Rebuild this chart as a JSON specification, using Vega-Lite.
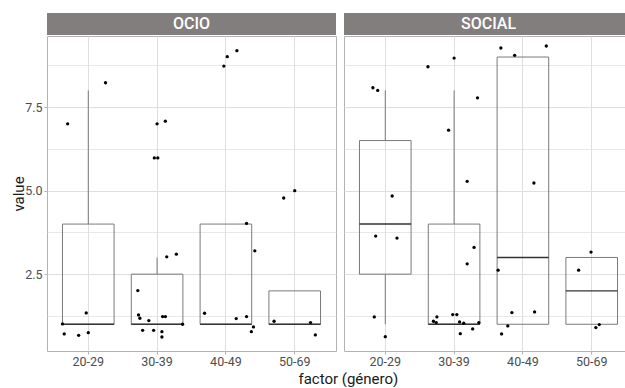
{
  "$schema": "https://vega.github.io/schema/vega-lite/v6.json",
  "background": "white",
  "padding": {"left": 11, "top": 13, "right": 0, "bottom": 0},
  "config": {
    "font": "Roboto",
    "view": {"stroke": "#b3b3b3", "strokeWidth": 1},
    "axis": {
      "labelFont": "Roboto", "labelFontSize": 12.5, "labelColor": "#4d4d4d",
      "titleFont": "Roboto", "titleFontSize": 15, "titleFontWeight": "normal", "titleColor": "#1a1a1a",
      "gridColor": "#dedede", "tickColor": "#b3b3b3", "domain": false
    }
  },
  "datasets": {
    "pts": [
      {"panel": "OCIO", "grupo": "20-29", "value": 7.0, "jitter": -0.30},
      {"panel": "OCIO", "grupo": "20-29", "value": 8.23, "jitter": 0.25},
      {"panel": "OCIO", "grupo": "20-29", "value": 1.34, "jitter": -0.03},
      {"panel": "OCIO", "grupo": "20-29", "value": 1.01, "jitter": -0.375},
      {"panel": "OCIO", "grupo": "20-29", "value": 0.71, "jitter": -0.35},
      {"panel": "OCIO", "grupo": "20-29", "value": 0.67, "jitter": -0.14},
      {"panel": "OCIO", "grupo": "20-29", "value": 0.75, "jitter": 0.0},
      {"panel": "OCIO", "grupo": "30-39", "value": 7.0, "jitter": 0.0},
      {"panel": "OCIO", "grupo": "30-39", "value": 7.08, "jitter": 0.12},
      {"panel": "OCIO", "grupo": "30-39", "value": 5.98, "jitter": -0.04},
      {"panel": "OCIO", "grupo": "30-39", "value": 5.98, "jitter": 0.01},
      {"panel": "OCIO", "grupo": "30-39", "value": 3.02, "jitter": 0.14},
      {"panel": "OCIO", "grupo": "30-39", "value": 3.10, "jitter": 0.28},
      {"panel": "OCIO", "grupo": "30-39", "value": 2.01, "jitter": -0.28},
      {"panel": "OCIO", "grupo": "30-39", "value": 1.28, "jitter": -0.27},
      {"panel": "OCIO", "grupo": "30-39", "value": 1.18, "jitter": -0.25},
      {"panel": "OCIO", "grupo": "30-39", "value": 1.11, "jitter": -0.12},
      {"panel": "OCIO", "grupo": "30-39", "value": 1.23, "jitter": 0.08},
      {"panel": "OCIO", "grupo": "30-39", "value": 1.23, "jitter": 0.12},
      {"panel": "OCIO", "grupo": "30-39", "value": 1.0, "jitter": 0.37},
      {"panel": "OCIO", "grupo": "30-39", "value": 0.82, "jitter": -0.21},
      {"panel": "OCIO", "grupo": "30-39", "value": 0.82, "jitter": -0.05},
      {"panel": "OCIO", "grupo": "30-39", "value": 0.78, "jitter": 0.07},
      {"panel": "OCIO", "grupo": "30-39", "value": 0.62, "jitter": 0.07},
      {"panel": "OCIO", "grupo": "40-49", "value": 9.01, "jitter": 0.02},
      {"panel": "OCIO", "grupo": "40-49", "value": 9.19, "jitter": 0.16},
      {"panel": "OCIO", "grupo": "40-49", "value": 8.73, "jitter": -0.03},
      {"panel": "OCIO", "grupo": "40-49", "value": 4.02, "jitter": 0.30},
      {"panel": "OCIO", "grupo": "40-49", "value": 3.20, "jitter": 0.42},
      {"panel": "OCIO", "grupo": "40-49", "value": 1.33, "jitter": -0.31},
      {"panel": "OCIO", "grupo": "40-49", "value": 1.17, "jitter": 0.15},
      {"panel": "OCIO", "grupo": "40-49", "value": 1.23, "jitter": 0.30},
      {"panel": "OCIO", "grupo": "40-49", "value": 0.92, "jitter": 0.40},
      {"panel": "OCIO", "grupo": "40-49", "value": 0.78, "jitter": 0.37},
      {"panel": "OCIO", "grupo": "50-69", "value": 5.0, "jitter": 0.0},
      {"panel": "OCIO", "grupo": "50-69", "value": 4.78, "jitter": -0.16},
      {"panel": "OCIO", "grupo": "50-69", "value": 1.09, "jitter": -0.30},
      {"panel": "OCIO", "grupo": "50-69", "value": 1.05, "jitter": 0.23},
      {"panel": "OCIO", "grupo": "50-69", "value": 0.68, "jitter": 0.30},
      {"panel": "SOCIAL", "grupo": "20-29", "value": 8.08, "jitter": -0.18},
      {"panel": "SOCIAL", "grupo": "20-29", "value": 8.0, "jitter": -0.11},
      {"panel": "SOCIAL", "grupo": "20-29", "value": 4.84, "jitter": 0.10},
      {"panel": "SOCIAL", "grupo": "20-29", "value": 3.64, "jitter": -0.14},
      {"panel": "SOCIAL", "grupo": "20-29", "value": 3.58, "jitter": 0.17},
      {"panel": "SOCIAL", "grupo": "20-29", "value": 1.22, "jitter": -0.16},
      {"panel": "SOCIAL", "grupo": "20-29", "value": 0.63, "jitter": 0.0},
      {"panel": "SOCIAL", "grupo": "30-39", "value": 8.71, "jitter": -0.38},
      {"panel": "SOCIAL", "grupo": "30-39", "value": 8.97, "jitter": 0.0},
      {"panel": "SOCIAL", "grupo": "30-39", "value": 7.78, "jitter": 0.34},
      {"panel": "SOCIAL", "grupo": "30-39", "value": 6.81, "jitter": -0.08},
      {"panel": "SOCIAL", "grupo": "30-39", "value": 5.28, "jitter": 0.19},
      {"panel": "SOCIAL", "grupo": "30-39", "value": 3.30, "jitter": 0.29},
      {"panel": "SOCIAL", "grupo": "30-39", "value": 2.81, "jitter": 0.19},
      {"panel": "SOCIAL", "grupo": "30-39", "value": 1.09, "jitter": -0.30},
      {"panel": "SOCIAL", "grupo": "30-39", "value": 1.05, "jitter": -0.26},
      {"panel": "SOCIAL", "grupo": "30-39", "value": 1.22, "jitter": -0.25},
      {"panel": "SOCIAL", "grupo": "30-39", "value": 1.29, "jitter": -0.02},
      {"panel": "SOCIAL", "grupo": "30-39", "value": 1.29, "jitter": 0.04},
      {"panel": "SOCIAL", "grupo": "30-39", "value": 1.07, "jitter": 0.08},
      {"panel": "SOCIAL", "grupo": "30-39", "value": 1.03, "jitter": 0.14},
      {"panel": "SOCIAL", "grupo": "30-39", "value": 1.05, "jitter": 0.36},
      {"panel": "SOCIAL", "grupo": "30-39", "value": 0.86, "jitter": 0.27},
      {"panel": "SOCIAL", "grupo": "30-39", "value": 0.72, "jitter": 0.09},
      {"panel": "SOCIAL", "grupo": "40-49", "value": 9.27, "jitter": -0.32},
      {"panel": "SOCIAL", "grupo": "40-49", "value": 9.33, "jitter": 0.34},
      {"panel": "SOCIAL", "grupo": "40-49", "value": 9.05, "jitter": -0.12},
      {"panel": "SOCIAL", "grupo": "40-49", "value": 5.23, "jitter": 0.16},
      {"panel": "SOCIAL", "grupo": "40-49", "value": 2.62, "jitter": -0.36},
      {"panel": "SOCIAL", "grupo": "40-49", "value": 1.35, "jitter": -0.16},
      {"panel": "SOCIAL", "grupo": "40-49", "value": 1.37, "jitter": 0.17},
      {"panel": "SOCIAL", "grupo": "40-49", "value": 0.95, "jitter": -0.22},
      {"panel": "SOCIAL", "grupo": "40-49", "value": 0.71, "jitter": -0.31},
      {"panel": "SOCIAL", "grupo": "50-69", "value": 3.16, "jitter": -0.01},
      {"panel": "SOCIAL", "grupo": "50-69", "value": 2.62, "jitter": -0.19},
      {"panel": "SOCIAL", "grupo": "50-69", "value": 0.99, "jitter": 0.11},
      {"panel": "SOCIAL", "grupo": "50-69", "value": 0.90, "jitter": 0.06}
    ],
    "box": [
      {"panel": "OCIO", "grupo": "20-29", "lower": 1, "q1": 1, "median": 1, "q3": 4, "upper": 8},
      {"panel": "OCIO", "grupo": "30-39", "lower": 1, "q1": 1, "median": 1, "q3": 2.5, "upper": 3},
      {"panel": "OCIO", "grupo": "40-49", "lower": 1, "q1": 1, "median": 1, "q3": 4, "upper": 4},
      {"panel": "OCIO", "grupo": "50-69", "lower": 1, "q1": 1, "median": 1, "q3": 2, "upper": 2},
      {"panel": "SOCIAL", "grupo": "20-29", "lower": 1, "q1": 2.5, "median": 4, "q3": 6.5, "upper": 8},
      {"panel": "SOCIAL", "grupo": "30-39", "lower": 1, "q1": 1, "median": 1, "q3": 4, "upper": 8},
      {"panel": "SOCIAL", "grupo": "40-49", "lower": 1, "q1": 1, "median": 3, "q3": 9, "upper": 9},
      {"panel": "SOCIAL", "grupo": "50-69", "lower": 1, "q1": 1, "median": 2, "q3": 3, "upper": 3}
    ]
  },
  "title": {"text": "factor (género)", "orient": "bottom", "anchor": "middle", "font": "Roboto", "fontSize": 15, "fontWeight": "normal", "color": "#1a1a1a", "offset": 4, "dx": 26},
  "spacing": 6,
  "hconcat": [
    {
      "spacing": 0,
      "vconcat": [
        {
          "width": 289, "height": 22,
          "data": {"values": [{"panel": "OCIO"}]},
          "view": {"fill": "#827e7d", "stroke": null},
          "mark": {"type": "text", "color": "white", "font": "Roboto", "fontSize": 16, "fontWeight": 500},
          "encoding": {"text": {"field": "panel"}}
        },
        {
          "width": 289, "height": 315,
          "resolve": {"scale": {"xOffset": "independent"}},
          "layer": [
            {
              "data": {"name": "box"},
              "transform": [{"filter": "datum.panel === 'OCIO'"}],
              "mark": {"type": "rule", "color": "#7a7a7a"},
              "encoding": {
                "x": {"field": "grupo", "type": "nominal", "sort": ["20-29", "30-39", "40-49", "50-69"],
                  "scale": {"domain": ["20-29", "30-39", "40-49", "50-69"], "paddingInner": 0.25, "paddingOuter": 0.225},
                  "axis": {"labelAngle": 0, "bandPosition": 0.5, "tickSize": 3, "labelPadding": 1, "grid": true, "title": null}},
                "y": {"field": "q3", "type": "quantitative", "scale": {"domain": [0.2, 9.63], "nice": false, "zero": false},
                  "axis": {"title": "value", "values": [1.25, 2.5, 3.75, 5, 6.25, 7.5, 8.75],
                    "labelExpr": "datum.value % 2.5 === 0 ? format(datum.value, '.1f') : ''",
                    "tickOpacity": {"condition": {"test": "datum.value % 2.5 !== 0", "value": 0}, "value": 1},
                    "gridWidth": {"condition": {"test": "datum.value % 2.5 !== 0", "value": 0.7}, "value": 1},
                    "tickSize": 3, "labelPadding": 2, "titlePadding": -2}},
                "y2": {"field": "upper"}
              }
            },
            {
              "data": {"name": "box"},
              "transform": [{"filter": "datum.panel === 'OCIO'"}],
              "mark": {"type": "rule", "color": "#7a7a7a"},
              "encoding": {
                "x": {"field": "grupo", "type": "nominal"},
                "y": {"field": "lower", "type": "quantitative", "title": "value"},
                "y2": {"field": "q1"}
              }
            },
            {
              "data": {"name": "box"},
              "transform": [{"filter": "datum.panel === 'OCIO'"}],
              "mark": {"type": "bar", "fill": "transparent", "stroke": "#7a7a7a", "strokeWidth": 1},
              "encoding": {
                "x": {"field": "grupo", "type": "nominal"},
                "y": {"field": "q1", "type": "quantitative", "title": "value"},
                "y2": {"field": "q3"}
              }
            },
            {
              "data": {"name": "box"},
              "transform": [{"filter": "datum.panel === 'OCIO'"}],
              "mark": {"type": "bar", "fill": "transparent", "stroke": "#333333", "strokeWidth": 1.4},
              "encoding": {
                "x": {"field": "grupo", "type": "nominal"},
                "y": {"field": "median", "type": "quantitative", "title": "value"},
                "y2": {"field": "median"}
              }
            },
            {
              "data": {"name": "pts"},
              "transform": [{"filter": "datum.panel === 'OCIO'"}],
              "mark": {"type": "circle", "size": 11, "color": "black", "opacity": 1},
              "encoding": {
                "x": {"field": "grupo", "type": "nominal"},
                "xOffset": {"field": "jitter", "type": "quantitative", "scale": {"domain": [-0.375, 0.375]}},
                "y": {"field": "value", "type": "quantitative", "title": "value"}
              }
            }
          ]
        }
      ]
    },
    {
      "spacing": 0,
      "vconcat": [
        {
          "width": 289, "height": 22,
          "data": {"values": [{"panel": "SOCIAL"}]},
          "view": {"fill": "#827e7d", "stroke": null},
          "mark": {"type": "text", "color": "white", "font": "Roboto", "fontSize": 16, "fontWeight": 500},
          "encoding": {"text": {"field": "panel"}}
        },
        {
          "width": 289, "height": 315,
          "resolve": {"scale": {"xOffset": "independent"}},
          "layer": [
            {
              "data": {"name": "box"},
              "transform": [{"filter": "datum.panel === 'SOCIAL'"}],
              "mark": {"type": "rule", "color": "#7a7a7a"},
              "encoding": {
                "x": {"field": "grupo", "type": "nominal", "sort": ["20-29", "30-39", "40-49", "50-69"],
                  "scale": {"domain": ["20-29", "30-39", "40-49", "50-69"], "paddingInner": 0.25, "paddingOuter": 0.225},
                  "axis": {"labelAngle": 0, "bandPosition": 0.5, "tickSize": 3, "labelPadding": 1, "grid": true, "title": null}},
                "y": {"field": "q3", "type": "quantitative", "scale": {"domain": [0.2, 9.63], "nice": false, "zero": false},
                  "axis": {"title": null, "labels": false, "ticks": false, "values": [1.25, 2.5, 3.75, 5, 6.25, 7.5, 8.75],
                    "gridWidth": {"condition": {"test": "datum.value % 2.5 !== 0", "value": 0.7}, "value": 1}}},
                "y2": {"field": "upper"}
              }
            },
            {
              "data": {"name": "box"},
              "transform": [{"filter": "datum.panel === 'SOCIAL'"}],
              "mark": {"type": "rule", "color": "#7a7a7a"},
              "encoding": {
                "x": {"field": "grupo", "type": "nominal"},
                "y": {"field": "lower", "type": "quantitative", "title": null},
                "y2": {"field": "q1"}
              }
            },
            {
              "data": {"name": "box"},
              "transform": [{"filter": "datum.panel === 'SOCIAL'"}],
              "mark": {"type": "bar", "fill": "transparent", "stroke": "#7a7a7a", "strokeWidth": 1},
              "encoding": {
                "x": {"field": "grupo", "type": "nominal"},
                "y": {"field": "q1", "type": "quantitative", "title": null},
                "y2": {"field": "q3"}
              }
            },
            {
              "data": {"name": "box"},
              "transform": [{"filter": "datum.panel === 'SOCIAL'"}],
              "mark": {"type": "bar", "fill": "transparent", "stroke": "#333333", "strokeWidth": 1.4},
              "encoding": {
                "x": {"field": "grupo", "type": "nominal"},
                "y": {"field": "median", "type": "quantitative", "title": null},
                "y2": {"field": "median"}
              }
            },
            {
              "data": {"name": "pts"},
              "transform": [{"filter": "datum.panel === 'SOCIAL'"}],
              "mark": {"type": "circle", "size": 11, "color": "black", "opacity": 1},
              "encoding": {
                "x": {"field": "grupo", "type": "nominal"},
                "xOffset": {"field": "jitter", "type": "quantitative", "scale": {"domain": [-0.375, 0.375]}},
                "y": {"field": "value", "type": "quantitative", "title": null}
              }
            }
          ]
        }
      ]
    }
  ]
}
